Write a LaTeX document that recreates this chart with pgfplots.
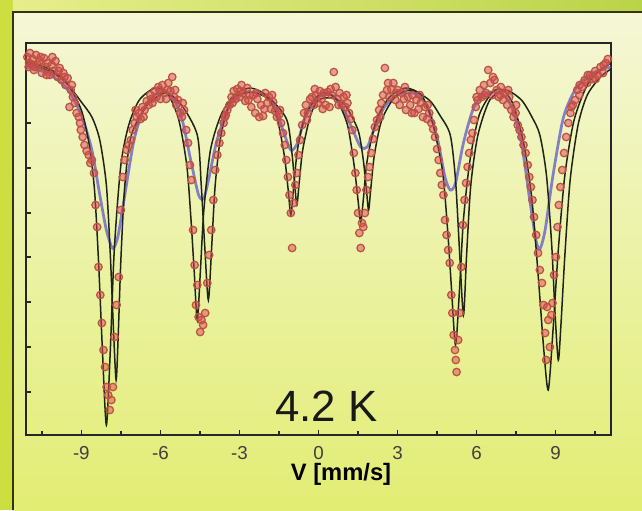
\documentclass[border=0pt]{standalone}
\usepackage{pgfplots}
\pgfplotsset{compat=1.18}
\usepackage{pgfplotstable}
\usepackage{fontspec}
\setmainfont{Liberation Sans}
\definecolor{outerc}{RGB}{204,222,64}
\definecolor{topl}{RGB}{230,238,140}
\definecolor{topr}{RGB}{186,212,72}
\definecolor{paneltop}{RGB}{245,247,214}
\definecolor{panelmid}{RGB}{238,243,172}
\definecolor{panelbot}{RGB}{226,237,116}
\definecolor{framec}{RGB}{50,52,20}
\definecolor{ptdraw}{RGB}{185,85,60}
\definecolor{ptfill}{RGB}{225,65,95}
\definecolor{fitdark}{RGB}{30,36,22}
\definecolor{fitblue}{RGB}{95,90,200}

\pgfplotstableread{
v t
-11.05 378
-11.00 368
-10.98 372
-10.95 382
-10.90 371
-10.85 376
-10.80 365
-10.76 368
-10.72 380
-10.65 370
-10.58 374
-10.54 378
-10.50 362
-10.42 377
-10.35 368
-10.32 360
-10.28 372
-10.20 360
-10.12 370
-10.10 378
-10.05 364
-9.98 374
-9.90 358
-9.86 364
-9.82 367
-9.75 355
-9.68 362
-9.64 358
-9.60 350
-9.52 357
-9.45 328
-9.40 345
-9.36 350
-9.32 338
-9.25 332
-9.18 322
-9.10 318
-9.05 312
-9.02 305
-8.95 298
-8.88 290
-8.80 284
-8.72 280
-8.66 272
-8.60 275
-8.52 262
-8.46 230
-8.40 208
-8.35 168
-8.28 140
-8.22 112
-8.16 85
-8.10 68
-8.04 48
-7.98 40
-7.92 25
-7.86 35
-7.80 48
-7.74 98
-7.66 130
-7.58 158
-7.50 225
-7.43 258
-7.36 275
-7.28 285
-7.20 290
-7.12 295
-7.05 305
-6.98 312
-6.94 325
-6.90 318
-6.82 322
-6.75 316
-6.68 328
-6.64 318
-6.60 325
-6.52 334
-6.45 330
-6.38 340
-6.34 336
-6.30 332
-6.22 344
-6.15 338
-6.08 348
-6.04 345
-6.00 336
-5.92 350
-5.85 342
-5.78 336
-5.74 345
-5.70 352
-5.62 344
-5.55 358
-5.48 338
-5.44 345
-5.40 330
-5.33 335
-5.25 322
-5.18 318
-5.15 332
-5.10 325
-5.02 305
-4.95 292
-4.88 270
-4.82 255
-4.76 205
-4.70 170
-4.65 130
-4.60 150
-4.55 118
-4.49 103
-4.44 115
-4.38 110
-4.30 122
-4.22 152
-4.15 180
-4.07 205
-3.99 235
-3.92 265
-3.84 280
-3.76 292
-3.69 302
-3.60 312
-3.55 318
-3.52 320
-3.46 325
-3.38 330
-3.30 338
-3.26 332
-3.22 344
-3.15 336
-3.08 346
-3.00 338
-2.96 344
-2.92 350
-2.85 342
-2.78 334
-2.70 347
-2.66 335
-2.62 340
-2.55 328
-2.48 340
-2.40 322
-2.36 342
-2.32 336
-2.25 318
-2.18 330
-2.10 319
-2.06 326
-2.02 342
-1.95 332
-1.88 338
-1.80 326
-1.76 340
-1.72 333
-1.65 324
-1.58 318
-1.50 320
-1.46 325
-1.42 312
-1.35 302
-1.28 290
-1.22 275
-1.16 258
-1.10 240
-1.05 222
-1.00 187
-0.94 232
-0.88 250
-0.82 262
-0.76 280
-0.70 295
-0.62 310
-0.55 322
-0.48 330
-0.44 315
-0.40 322
-0.32 336
-0.25 338
-0.18 330
-0.14 346
-0.10 340
-0.02 332
0.05 344
0.12 336
0.16 326
0.20 342
0.28 330
0.35 343
0.42 328
0.46 346
0.50 340
0.58 363
0.65 348
0.72 336
0.76 330
0.80 342
0.88 330
0.95 338
1.02 328
1.06 340
1.10 332
1.16 322
1.22 316
1.28 305
1.34 282
1.40 262
1.45 245
1.50 222
1.55 202
1.60 187
1.65 212
1.70 208
1.76 222
1.82 245
1.88 258
1.94 268
2.00 282
2.07 296
2.14 308
2.22 315
2.30 325
2.34 318
2.38 332
2.45 340
2.52 367
2.60 345
2.64 352
2.68 338
2.76 346
2.84 352
2.92 335
2.94 342
3.00 345
3.08 330
3.16 342
3.24 336
3.28 348
3.32 325
3.40 338
3.48 330
3.54 322
3.56 340
3.64 322
3.72 335
3.80 326
3.84 340
3.88 332
3.96 318
4.04 328
4.12 316
4.14 330
4.20 322
4.28 312
4.35 306
4.42 298
4.50 286
4.56 275
4.62 262
4.68 250
4.74 240
4.80 215
4.86 200
4.92 185
4.98 172
5.04 140
5.08 122
5.13 100
5.18 85
5.21 75
5.24 63
5.30 95
5.36 122
5.42 168
5.48 210
5.54 235
5.60 252
5.66 268
5.72 282
5.78 295
5.84 302
5.90 315
5.97 328
6.00 338
6.04 335
6.12 345
6.20 338
6.28 350
6.30 340
6.36 342
6.44 365
6.52 352
6.60 340
6.62 358
6.68 355
6.76 345
6.84 338
6.90 340
6.92 348
7.00 335
7.08 342
7.16 330
7.20 345
7.24 338
7.32 325
7.40 318
7.48 322
7.50 330
7.56 310
7.63 305
7.70 298
7.78 290
7.86 282
7.94 270
8.00 258
8.06 248
8.12 235
8.18 218
8.26 200
8.33 182
8.40 165
8.48 152
8.54 130
8.60 102
8.64 75
8.68 128
8.72 115
8.78 88
8.84 120
8.88 132
8.94 160
9.01 178
9.07 208
9.12 230
9.18 248
9.25 265
9.32 282
9.40 298
9.48 312
9.56 322
9.60 328
9.65 330
9.74 335
9.82 345
9.90 340
9.91 350
10.00 348
10.10 355
10.20 352
10.22 360
10.30 360
10.40 356
10.50 364
10.52 356
10.60 360
10.70 368
10.80 362
10.82 370
10.90 372
10.98 376
}\spectrum

\begin{document}
\begin{tikzpicture}
\useasboundingbox (-10.4pt,-30pt) rectangle (246.4pt,174pt);
\fill[outerc] (-10.4pt,-30pt) rectangle (246.4pt,174pt);
\shade[left color=topl,right color=topr] (-5.2pt,169.2pt) rectangle (246.4pt,174pt);
\shade[top color=paneltop,middle color=panelmid,bottom color=panelbot] (-5.2pt,-30pt) rectangle (246.4pt,169.2pt);
\draw[framec,line width=1pt] (-5.2pt,-30pt) -- (-5.2pt,169.2pt) -- (246.4pt,169.2pt);
\begin{axis}[
  scale only axis, width=234pt, height=156.8pt,
  at={(0pt,0pt)}, anchor=south west,
  xmin=-11.1, xmax=11.1, ymin=0, ymax=392,
  axis line style={black!85, line width=0.8pt},
  xtick={-9,-6,-3,0,3,6,9}, xticklabels={-9,-6,-3,0,3,6,9},
  minor xtick={-10.5,-7.5,-4.5,-1.5,1.5,4.5,7.5,10.5},
  ytick={43,88,133,178,222,267,312}, yticklabels={},
  xtick pos=bottom, ytick pos=left, tick align=inside,
  major tick length=2pt, minor tick length=1.6pt,
  tick style={black!85, line width=0.6pt},
  xticklabel style={font=\fontsize{7.5}{8}\selectfont, text=black!75, yshift=-1pt},
  xlabel={V [mm/s]},
  xlabel style={font=\bfseries\fontsize{9.5}{10}\selectfont, at={(axis description cs:0.5385,0)}, anchor=center, yshift=-15.6pt},
  clip=true,
]
\addplot[only marks, mark=*, mark size=1.5pt,
  mark options={draw=ptdraw, fill=ptfill, fill opacity=0.5, line width=0.5pt}]
  table[x=v, y=t] {\spectrum};
\addplot[fitblue, line width=1.1pt, opacity=0.75, smooth, tension=0.45] coordinates {
(-11.1,368) (-10.5,364) (-10,357) (-9.5,345) (-9.0,320) (-8.6,285) (-8.3,240) (-8.05,205) (-7.85,188) (-7.75,188) (-7.6,200) (-7.35,240) (-7.0,295) (-6.6,328) (-6.1,342) (-5.6,340) (-5.2,318) (-4.85,275) (-4.55,240) (-4.35,237) (-4.15,258) (-3.85,295) (-3.4,328) (-2.8,342) (-2.2,342) (-1.7,332) (-1.35,305) (-1.05,285) (-0.8,292) (-0.5,318) (0.0,338) (0.5,340) (0.9,328) (1.3,305) (1.6,288) (1.85,288) (2.1,305) (2.5,328) (3.0,340) (3.6,342) (4.1,330) (4.5,298) (4.8,258) (5.0,245) (5.2,252) (5.5,292) (5.9,328) (6.4,342) (6.9,342) (7.3,330) (7.7,292) (8.0,238) (8.25,195) (8.4,186) (8.6,205) (8.9,260) (9.3,318) (9.8,348) (10.4,362) (11.1,368)};
\addplot[fitdark, line width=0.6pt, smooth, tension=0.45] coordinates {
(-11.1,373) (-10.5,369) (-10.0,363) (-9.5,350) (-9.0,325) (-8.7,290) (-8.5,245) (-8.35,175) (-8.2,85) (-8.05,10) (-7.9,85) (-7.75,185) (-7.5,270) (-7.2,310) (-6.8,335) (-6.2,347) (-5.7,340) (-5.3,315) (-5.0,270) (-4.85,220) (-4.72,165) (-4.6,115) (-4.48,165) (-4.35,225) (-4.1,285) (-3.7,320) (-3.2,340) (-2.6,347) (-2.0,340) (-1.6,320) (-1.3,280) (-1.15,245) (-1.05,220) (-0.95,245) (-0.8,285) (-0.5,320) (0.0,340) (0.3,342) (0.7,335) (1.1,310) (1.35,270) (1.5,235) (1.6,213) (1.7,235) (1.85,275) (2.2,315) (2.7,338) (3.3,347) (3.9,340) (4.3,315) (4.7,265) (4.9,205) (5.05,145) (5.2,90) (5.35,145) (5.5,215) (5.75,275) (6.1,320) (6.6,343) (7.0,345) (7.4,330) (7.8,290) (8.1,235) (8.35,155) (8.55,85) (8.72,45) (8.9,105) (9.1,185) (9.35,260) (9.7,315) (10.2,350) (10.7,365) (11.1,372)};
\addplot[fitdark, line width=0.6pt, smooth, tension=0.45] coordinates {
(-11.1,371) (-10.5,367) (-10.0,361) (-9.5,350) (-9.0,333) (-8.6,318) (-8.3,295) (-8.05,250) (-7.9,180) (-7.78,105) (-7.68,55) (-7.6,100) (-7.5,175) (-7.35,250) (-7.1,300) (-6.5,330) (-5.8,342) (-5.2,330) (-4.6,300) (-4.45,250) (-4.32,190) (-4.18,135) (-4.05,190) (-3.92,250) (-3.7,300) (-3.3,335) (-2.6,343) (-1.8,335) (-1.2,315) (-1.0,280) (-0.9,250) (-0.82,230) (-0.74,250) (-0.6,285) (-0.3,320) (0.0,335) (0.5,337) (1.0,330) (1.5,305) (1.7,275) (1.82,245) (1.9,225) (1.98,245) (2.12,280) (2.4,315) (2.9,338) (3.5,345) (4.2,335) (4.6,320) (5.0,300) (5.2,255) (5.35,185) (5.5,120) (5.62,180) (5.78,250) (6.05,300) (6.5,335) (7.1,345) (7.7,335) (8.1,318) (8.4,300) (8.65,260) (8.85,190) (8.98,120) (9.1,75) (9.2,110) (9.35,180) (9.55,255) (9.85,310) (10.2,340) (10.7,358) (11.1,366)};
\node[font=\fontsize{17.5}{20}\selectfont, text=black!90] at (axis cs:0.3,29) {4.2 K};
\end{axis}
\end{tikzpicture}
\end{document}
